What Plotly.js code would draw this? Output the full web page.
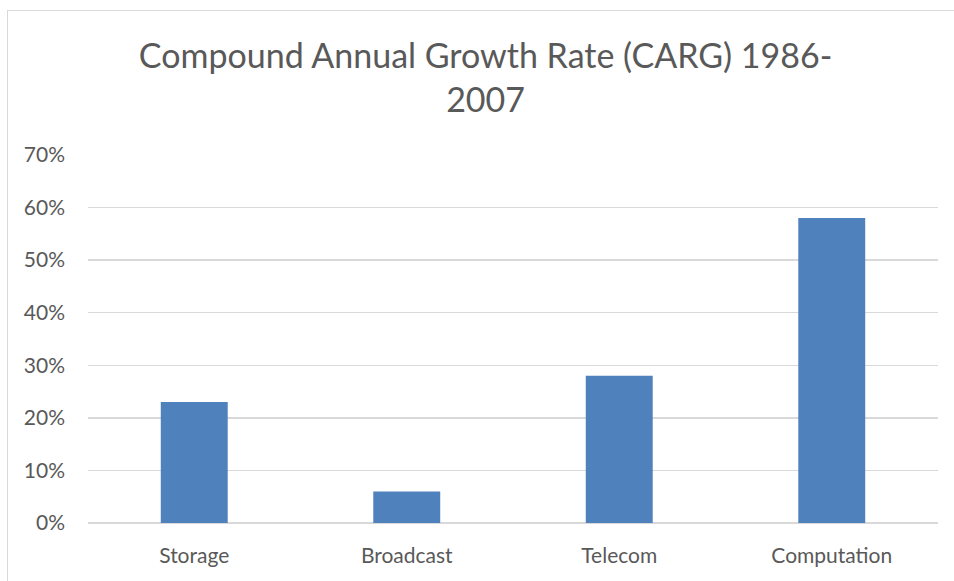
<!DOCTYPE html>
<html>
<head>
<meta charset="utf-8">
<script src="https://cdn.plot.ly/plotly-3.0.1.min.js"></script>
<style>
html,body{margin:0;padding:0;background:#fff;}
#wrap{position:relative;width:954px;height:581px;overflow:hidden;}
#chart{width:954px;height:581px;}
#frame{position:absolute;left:7px;top:10px;width:1000px;height:1000px;border-left:1px solid #d9d9d9;border-top:1px solid #d9d9d9;pointer-events:none;}
</style>
</head>
<body>
<div id="wrap"><div id="chart"></div><div id="frame"></div></div>
<script>
const categories = ["Storage", "Broadcast", "Telecom", "Computation"];
const growthRates = [0.23, 0.06, 0.28, 0.58];
const yTickValues = [0, 0.1, 0.2, 0.3, 0.4, 0.5, 0.6, 0.7];
const chartTitle = "Compound Annual Growth Rate (CARG) 1986-<br>2007";

const font = "Lato, 'Open Sans', sans-serif";
Plotly.newPlot("chart", [{
  type: "bar",
  x: categories,
  y: growthRates,
  marker: {color: "#4f81bd"},
  hoverinfo: "x+y"
}], {
  width: 954, height: 581,
  margin: {l: 88, r: 16, t: 155, b: 58, pad: 0},
  paper_bgcolor: "#fff", plot_bgcolor: "#fff",
  bargap: 0.685,
  showlegend: false,
  title: {
    text: chartTitle,
    font: {family: font, size: 34, color: "#595959"},
    xref: "container", x: 0.509, xanchor: "center",
    yref: "container", y: 0.883, yanchor: "top"
  },
  xaxis: {
    showgrid: false, zeroline: false, showline: false,
    ticks: "", tickfont: {family: font, size: 21, color: "#595959"},
    ticklabelstandoff: 18
  },
  yaxis: {
    range: [0, 0.7], tickvals: yTickValues, tickformat: ".0%",
    showgrid: true, gridcolor: "#d9d9d9", gridwidth: 1.3,
    zeroline: true, zerolinecolor: "#d9d9d9", zerolinewidth: 1.3,
    showline: false, ticks: "",
    tickfont: {family: font, size: 21, color: "#595959"},
    ticklabelstandoff: 22
  }
}, {displayModeBar: false, staticPlot: true});
</script>
</body>
</html>
